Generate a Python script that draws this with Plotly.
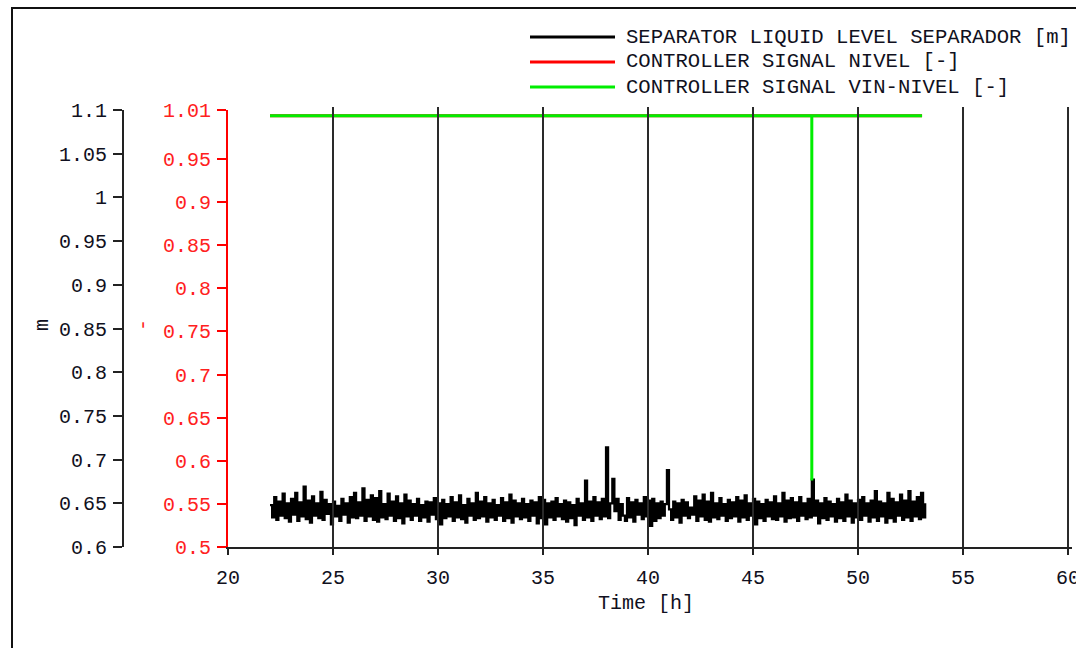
import numpy as np
import plotly.graph_objects as go

# ---------------- data ----------------
level_start, level_step = 22.0, 0.1
separator_level = [
    0.648, 0.634, 0.657, 0.631, 0.652, 0.636, 0.661, 0.633, 0.650, 0.629,
    0.655, 0.637, 0.662, 0.630, 0.651, 0.635, 0.669, 0.632, 0.653, 0.628,
    0.658, 0.636, 0.650, 0.633, 0.663, 0.631, 0.654, 0.638, 0.649, 0.626,
    0.652, 0.635, 0.647, 0.630, 0.655, 0.637, 0.650, 0.628, 0.657, 0.634,
    0.662, 0.633, 0.651, 0.636, 0.667, 0.630, 0.654, 0.635, 0.659, 0.631,
    0.656, 0.629, 0.664, 0.634, 0.649, 0.632, 0.661, 0.636, 0.652, 0.630,
    0.658, 0.633, 0.650, 0.627, 0.660, 0.635, 0.653, 0.631, 0.649, 0.636,
    0.655, 0.630, 0.648, 0.634, 0.652, 0.629, 0.651, 0.637, 0.656, 0.632,
    0.650, 0.626, 0.654, 0.633, 0.649, 0.635, 0.657, 0.630, 0.651, 0.634,
    0.659, 0.632, 0.648, 0.628, 0.655, 0.636, 0.650, 0.631, 0.662, 0.633,
    0.652, 0.635, 0.657, 0.629, 0.650, 0.634, 0.654, 0.631, 0.648, 0.636,
    0.656, 0.630, 0.651, 0.633, 0.660, 0.628, 0.653, 0.635, 0.650, 0.632,
    0.655, 0.634, 0.649, 0.630, 0.653, 0.636, 0.651, 0.627, 0.657, 0.633,
    0.654, 0.626, 0.650, 0.634, 0.652, 0.631, 0.656, 0.635, 0.649, 0.632,
    0.653, 0.629, 0.651, 0.633, 0.648, 0.625, 0.655, 0.636, 0.650, 0.631,
    0.676, 0.634, 0.652, 0.630, 0.657, 0.636, 0.651, 0.632, 0.655, 0.635,
    0.714, 0.633, 0.650, 0.678, 0.641, 0.655, 0.631, 0.649, 0.636, 0.630,
    0.656, 0.634, 0.651, 0.629, 0.654, 0.637, 0.650, 0.632, 0.657, 0.635,
    0.653, 0.624, 0.655, 0.630, 0.650, 0.633, 0.652, 0.636, 0.649, 0.688,
    0.643, 0.631, 0.652, 0.634, 0.650, 0.628, 0.654, 0.636, 0.651, 0.633,
    0.645, 0.637, 0.658, 0.630, 0.653, 0.635, 0.660, 0.631, 0.652, 0.629,
    0.662, 0.634, 0.650, 0.632, 0.656, 0.636, 0.649, 0.630, 0.654, 0.633,
    0.651, 0.635, 0.657, 0.629, 0.653, 0.634, 0.659, 0.631, 0.650, 0.636,
    0.655, 0.626, 0.652, 0.633, 0.649, 0.630, 0.654, 0.635, 0.651, 0.632,
    0.658, 0.631, 0.650, 0.635, 0.662, 0.629, 0.653, 0.633, 0.656, 0.634,
    0.651, 0.630, 0.657, 0.636, 0.650, 0.632, 0.655, 0.634, 0.677, 0.636,
    0.653, 0.627, 0.650, 0.633, 0.656, 0.631, 0.652, 0.635, 0.649, 0.629,
    0.655, 0.633, 0.651, 0.630, 0.660, 0.635, 0.653, 0.628, 0.650, 0.634,
    0.654, 0.631, 0.657, 0.636, 0.650, 0.629, 0.653, 0.634, 0.664, 0.630,
    0.652, 0.635, 0.650, 0.628, 0.662, 0.633, 0.655, 0.629, 0.651, 0.636,
    0.660, 0.631, 0.653, 0.634, 0.664, 0.630, 0.652, 0.635, 0.657, 0.632,
    0.662, 0.634, 0.650,
]
level_time = [round(level_start + level_step * i, 1) for i in range(len(separator_level))]

ctrl_time = [22.0, 47.8, 47.8, 47.8, 53.05]
ctrl_nivel = [1.0, 1.0, 1.0, 1.0, 1.0]
ctrl_vin_nivel = [1.0, 1.0, 0.577, 1.0, 1.0]

names = ["SEPARATOR LIQUID LEVEL SEPARADOR [m]",
         "CONTROLLER SIGNAL NIVEL [-]",
         "CONTROLLER SIGNAL VIN-NIVEL [-]"]
colors = ["#000000", "#ff0000", "#00ee00"]

x_ticks = [20, 25, 30, 35, 40, 45, 50, 55, 60]
y1_ticks = [0.6, 0.65, 0.7, 0.75, 0.8, 0.85, 0.9, 0.95, 1.0, 1.05, 1.1]
y1_text = ["0.6", "0.65", "0.7", "0.75", "0.8", "0.85", "0.9", "0.95", "1", "1.05", "1.1"]
y2_max = 1.0067
y2_ticks = [0.5, 0.55, 0.6, 0.65, 0.7, 0.75, 0.8, 0.85, 0.9, 0.95, y2_max]
y2_text = ["0.5", "0.55", "0.6", "0.65", "0.7", "0.75", "0.8", "0.85", "0.9", "0.95", "1.01"]

# ---------------- figure ----------------
W, H = 1076, 648
def px(x): return x / W
def py(y): return 1 - y / H

FONT = "Liberation Mono"
TXT = "#101020"
RED = "#ff2020"

fig = go.Figure()
fig.add_trace(go.Scatter(x=ctrl_time, y=ctrl_nivel, yaxis="y2", mode="lines",
                         line=dict(color=colors[1], width=3), name=names[1]))
fig.add_trace(go.Scatter(x=ctrl_time, y=ctrl_vin_nivel, yaxis="y2", mode="lines",
                         line=dict(color=colors[2], width=3), name=names[2]))
fig.add_trace(go.Scatter(x=level_time, y=separator_level, yaxis="y", mode="lines",
                         line=dict(color=colors[0], width=2.2, shape="hv"), name=names[0]))

tf = dict(family=FONT, size=20, color=TXT)
fig.update_layout(
    width=W, height=H, margin=dict(l=0, r=0, t=0, b=0, autoexpand=False),
    paper_bgcolor="white", plot_bgcolor="rgba(0,0,0,0)", showlegend=False,
    font=dict(family=FONT, size=20, color=TXT),
    xaxis=dict(domain=[px(228), px(1072)], range=[20, 60.19], tickvals=x_ticks,
               showgrid=False, zeroline=False,
               showline=True, linecolor="#222", linewidth=2,
               ticks="outside", ticklen=6, tickwidth=2, tickcolor="#222",
               tickfont=tf, ticklabelstandoff=5, ticklabeloverflow="allow",
               anchor="y", automargin=False),
    yaxis=dict(domain=[py(547), py(110)], range=[0.6, 1.1], tickvals=y1_ticks, ticktext=y1_text,
               anchor="free", position=px(123), side="left",
               showgrid=False, zeroline=False, showline=True, linecolor="#222", linewidth=2,
               ticks="outside", ticklen=9, tickwidth=2, tickcolor="#222",
               tickfont=tf, ticklabelstandoff=2, automargin=False),
    yaxis2=dict(overlaying="y", anchor="x", side="left", range=[0.5, y2_max],
                tickvals=y2_ticks, ticktext=y2_text,
                showgrid=False, zeroline=False, showline=True, linecolor="#ff0000", linewidth=2,
                ticks="outside", ticklen=9, tickwidth=2, tickcolor="#ff0000",
                tickfont=dict(family=FONT, size=20, color=RED),
                ticklabelstandoff=2, automargin=False),
)

shapes = [dict(type="rect", xref="paper", yref="paper", x0=px(12), x1=1.5, y0=-0.5, y1=py(8),
               line=dict(color="#111", width=2), fillcolor="rgba(0,0,0,0)")]
# vertical grid lines at every x tick
for xv in x_ticks[1:]:
    shapes.append(dict(type="line", xref="x", yref="paper", x0=xv, x1=xv,
                       y0=py(547), y1=py(107), layer="above",
                       line=dict(color="#2a2a2a", width=2)))
annotations = []
legend_rows = [37, 62, 87]
for name, col, yy in zip(names, colors, legend_rows):
    shapes.append(dict(type="line", xref="paper", yref="paper", x0=px(530), x1=px(615),
                       y0=py(yy), y1=py(yy), line=dict(color=col, width=3)))
    annotations.append(dict(text=name, xref="paper", yref="paper", x=px(624), y=py(yy),
                            xanchor="left", yanchor="middle", showarrow=False,
                            font=dict(family=FONT, size=20.6, color=TXT)))

annotations += [
    dict(text="m", xref="paper", yref="paper", x=px(42), y=py(325), textangle=-90,
         xanchor="center", yanchor="middle",
         showarrow=False, font=dict(family=FONT, size=20, color=TXT)),
    dict(text="-", xref="paper", yref="paper", x=px(143), y=py(325), textangle=-90,
         xanchor="center", yanchor="middle",
         showarrow=False, font=dict(family=FONT, size=20, color=RED)),
    dict(text="Time [h]", xref="paper", yref="paper", x=px(646), y=py(603),
         xanchor="center", yanchor="middle",
         showarrow=False, font=dict(family=FONT, size=20, color=TXT)),
]
fig.update_layout(shapes=shapes, annotations=annotations)

fig.write_html("out.html", config={"displayModeBar": False},
               post_script="document.body.style.margin='0';document.body.style.overflow='hidden';")
